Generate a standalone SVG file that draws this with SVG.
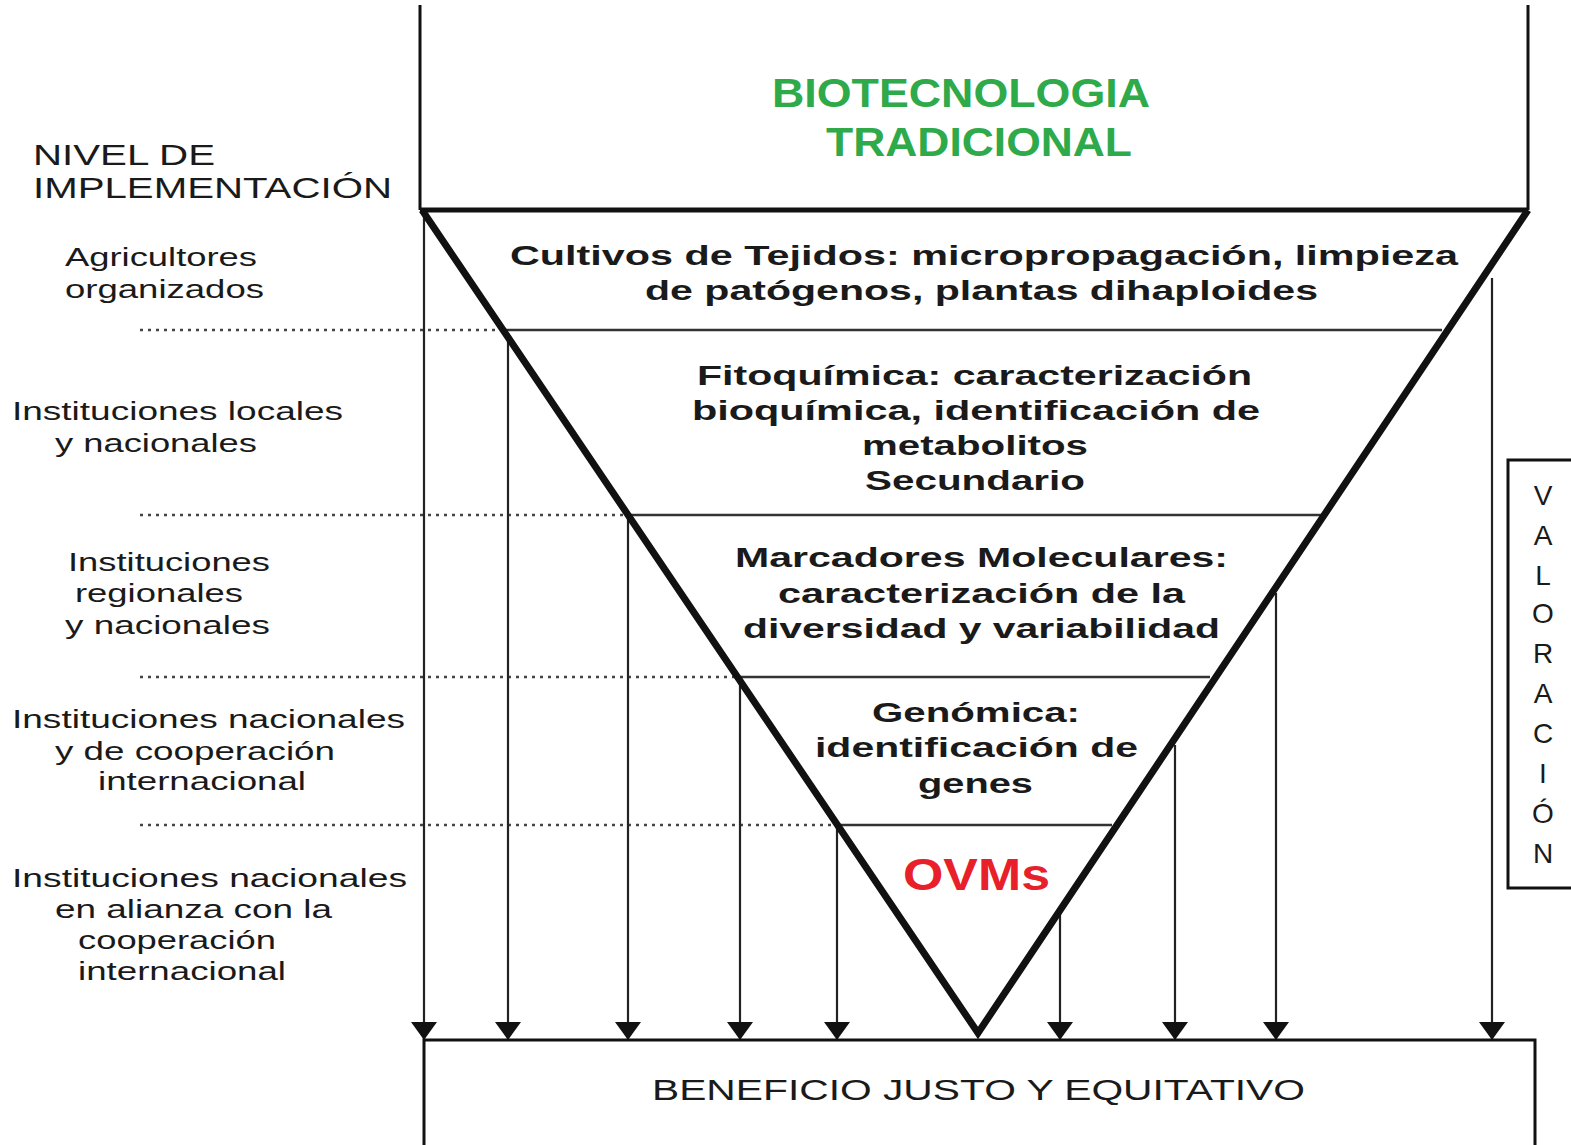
<svg xmlns="http://www.w3.org/2000/svg" width="1571" height="1145" viewBox="0 0 1571 1145">
<style>
text { font-family: "Liberation Sans", Arial, sans-serif; fill: #1a1a1a; }
.lbl { font-size: 26px; }
.hdr { font-size: 29px; }
.in { font-size: 27px; font-weight: bold; }
.green { font-size: 40px; font-weight: bold; fill: #2eaa4a; }
.red { font-size: 44px; font-weight: bold; fill: #e8202a; }
.dot { stroke: #444; stroke-width: 2.5; stroke-dasharray: 3 5; fill: none; }
.sep { stroke: #333; stroke-width: 2.5; fill: none; }
.arr { stroke: #222; stroke-width: 2.2; fill: none; marker-end: url(#ah); }
.frame { stroke: #111; stroke-width: 3; fill: none; }
</style>
<defs>
<marker id="ah" viewBox="0 0 26 18" refX="13" refY="18" markerWidth="26" markerHeight="18" markerUnits="userSpaceOnUse" orient="0">
<path d="M0,0 L26,0 L13,18 Z" fill="#111"/>
</marker>
</defs>
<rect width="1571" height="1145" fill="#fff"/>

<g id="top-box">
<path class="frame" d="M420,5 V210 M1528,5 V210"/>
<text class="green" x="772" y="107" textLength="378" lengthAdjust="spacingAndGlyphs">BIOTECNOLOGIA</text>
<text class="green" x="826" y="156" textLength="306" lengthAdjust="spacingAndGlyphs">TRADICIONAL</text>
</g>

<g id="levels">
<text class="hdr" x="33" y="165" textLength="182" lengthAdjust="spacingAndGlyphs">NIVEL DE</text>
<text class="hdr" x="33" y="198" textLength="359" lengthAdjust="spacingAndGlyphs">IMPLEMENTACIÓN</text>
<text class="lbl" x="65" y="266" textLength="192" lengthAdjust="spacingAndGlyphs">Agricultores</text>
<text class="lbl" x="65" y="298" textLength="199" lengthAdjust="spacingAndGlyphs">organizados</text>
<text class="lbl" x="12" y="420" textLength="331" lengthAdjust="spacingAndGlyphs">Instituciones locales</text>
<text class="lbl" x="55" y="452" textLength="202" lengthAdjust="spacingAndGlyphs">y nacionales</text>
<text class="lbl" x="68" y="571" textLength="202" lengthAdjust="spacingAndGlyphs">Instituciones</text>
<text class="lbl" x="75" y="602" textLength="168" lengthAdjust="spacingAndGlyphs">regionales</text>
<text class="lbl" x="65" y="634" textLength="205" lengthAdjust="spacingAndGlyphs">y nacionales</text>
<text class="lbl" x="12" y="728" textLength="393" lengthAdjust="spacingAndGlyphs">Instituciones nacionales</text>
<text class="lbl" x="55" y="760" textLength="280" lengthAdjust="spacingAndGlyphs">y de cooperación</text>
<text class="lbl" x="98" y="790" textLength="208" lengthAdjust="spacingAndGlyphs">internacional</text>
<text class="lbl" x="12" y="887" textLength="395" lengthAdjust="spacingAndGlyphs">Instituciones nacionales</text>
<text class="lbl" x="55" y="918" textLength="277" lengthAdjust="spacingAndGlyphs">en alianza con la</text>
<text class="lbl" x="78" y="949" textLength="198" lengthAdjust="spacingAndGlyphs">cooperación</text>
<text class="lbl" x="78" y="980" textLength="208" lengthAdjust="spacingAndGlyphs">internacional</text>
</g>

<g id="connectors">
<path class="dot" d="M140,330 H505 M140,515 H628 M140,677 H740 M140,825 H838"/>
<path class="sep" d="M505,330 H1442 M630,515 H1325 M740,677 H1210 M838,825 H1112"/>
<path class="arr" d="M424,212 V1040"/>
<path class="arr" d="M508,334 V1040"/>
<path class="arr" d="M628,518 V1040"/>
<path class="arr" d="M740,680 V1040"/>
<path class="arr" d="M837,828 V1040"/>
<path class="arr" d="M1060,912 V1040"/>
<path class="arr" d="M1175,745 V1040"/>
<path class="arr" d="M1276,593 V1040"/>
<path class="arr" d="M1492,278 V1040"/>
</g>

<g id="triangle">
<path d="M420,210 H1528" stroke="#111" stroke-width="5" fill="none"/>
<path d="M422,210 L978,1033 L1528,210" stroke="#111" stroke-width="7" fill="none" stroke-linejoin="miter"/>
</g>

<g id="tier-cultivos">
<text class="in" x="510" y="265" textLength="948" lengthAdjust="spacingAndGlyphs">Cultivos de Tejidos: micropropagación, limpieza</text>
<text class="in" x="645" y="300" textLength="673" lengthAdjust="spacingAndGlyphs">de patógenos, plantas dihaploides</text>
</g>
<g id="tier-fitoquimica">
<text class="in" x="697" y="385" textLength="555" lengthAdjust="spacingAndGlyphs">Fitoquímica: caracterización</text>
<text class="in" x="692" y="420" textLength="568" lengthAdjust="spacingAndGlyphs">bioquímica, identificación de</text>
<text class="in" x="862" y="455" textLength="226" lengthAdjust="spacingAndGlyphs">metabolitos</text>
<text class="in" x="865" y="490" textLength="220" lengthAdjust="spacingAndGlyphs">Secundario</text>
</g>
<g id="tier-marcadores">
<text class="in" x="735" y="567" textLength="493" lengthAdjust="spacingAndGlyphs">Marcadores Moleculares:</text>
<text class="in" x="778" y="603" textLength="407" lengthAdjust="spacingAndGlyphs">caracterización de la</text>
<text class="in" x="743" y="638" textLength="477" lengthAdjust="spacingAndGlyphs">diversidad y variabilidad</text>
</g>
<g id="tier-genomica">
<text class="in" x="872" y="722" textLength="208" lengthAdjust="spacingAndGlyphs">Genómica:</text>
<text class="in" x="815" y="757" textLength="323" lengthAdjust="spacingAndGlyphs">identificación de</text>
<text class="in" x="918" y="793" textLength="115" lengthAdjust="spacingAndGlyphs">genes</text>
</g>
<g id="tier-ovms">
<text class="red" x="903" y="890" textLength="147" lengthAdjust="spacingAndGlyphs">OVMs</text>
</g>

<g id="valoracion">
<path class="frame" d="M1575,460 H1508 V888 H1575" stroke-width="2.5"/>
<g class="lbl" text-anchor="middle" style="font-size:28px">
<text x="1543" y="505">V</text>
<text x="1543" y="545">A</text>
<text x="1543" y="585">L</text>
<text x="1543" y="623">O</text>
<text x="1543" y="663">R</text>
<text x="1543" y="703">A</text>
<text x="1543" y="743">C</text>
<text x="1543" y="783">I</text>
<text x="1543" y="823">Ó</text>
<text x="1543" y="863">N</text>
</g>
</g>

<g id="beneficio">
<path class="frame" d="M424,1145 V1040 H1535 V1145" stroke-width="2.5"/>
<text x="652" y="1100" style="font-size:29px" textLength="653" lengthAdjust="spacingAndGlyphs">BENEFICIO JUSTO Y EQUITATIVO</text>
</g>
</svg>
